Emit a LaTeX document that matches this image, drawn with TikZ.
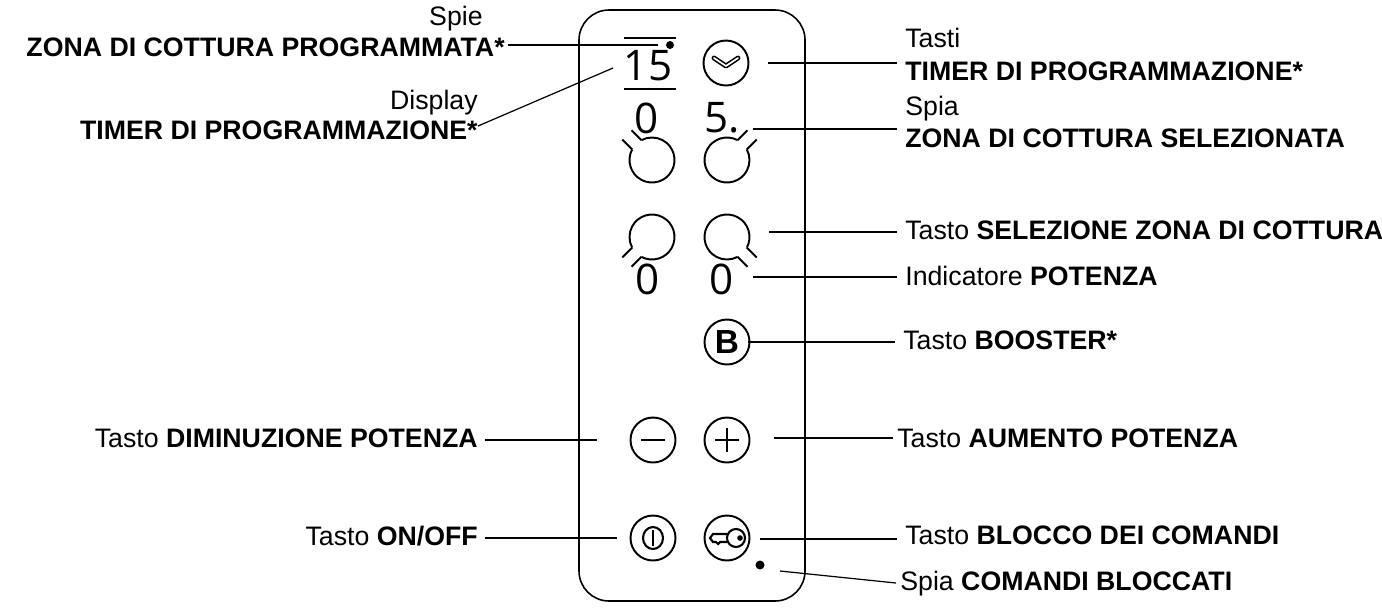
\documentclass[tikz,border=0pt]{standalone}
\usetikzlibrary{calc}
\usepackage{fontspec}
\setmainfont{Liberation Sans}
\newfontfamily\digitfont{Open Sans}
\begin{document}
\begin{tikzpicture}[x=0.02cm,y=-0.02cm,
  ln/.style={line width=0.7pt},
  btn/.style={circle,draw,line width=1.1pt,minimum size=45*0.02cm,inner sep=0pt},
  lab/.style={font=\fontsize{15.2}{17}\selectfont,inner sep=0pt},
  dig/.style={font=\digitfont\fontsize{24}{26}\selectfont,inner sep=0pt}]
\useasboundingbox (0,0) rectangle (1382,610);
% panel
\draw[line width=0.9pt,rounded corners=0.6cm] (579,10) rectangle (805,601);
% display
\draw[line width=1pt] (624,38) -- (676,38) (624,89) -- (676,89);
\node[dig] (d15) at (648,66) {15};
\fill (670,45) circle[radius=4] coordinate (dspie);
% clock
\node[btn] (clk) at (726,63) {};
\draw[line width=2.8pt,line cap=round,line join=round] (714,58) -- (726,66) -- (738,58);
\draw[white,line width=1pt,line cap=round,line join=round] (714,58) -- (726,66) -- (738,58);
% rings
\def\ring#1#2#3{% center x, y, gap direction
  \draw[line width=1.1pt] ($(#1,#2)+(#3-17:22.5)$) arc[start angle=#3-17,end angle=#3+17-360,radius=22.5];
  \draw[line width=1.1pt] ($(#1,#2)+(#3-17:22.5)$) -- ++(#3:14) ($(#1,#2)+(#3+17:22.5)$) -- ++(#3:14);}
\ring{652}{160}{-135}
\ring{727}{160}{-45}
\ring{652}{237}{135}
\ring{727}{237}{45}
\node[dig] (z1) at (647,118) {0};
\node[dig] (z2) at (722,118) {5.};
\node[dig] (z3) at (648,279) {0};
\node[dig] (z4) at (722,279) {0};
% booster
\node[btn] (bst) at (727,342) {\fontsize{19}{20}\selectfont\textbf{B}};
% minus plus
\node[btn] (mn) at (653,440) {};
\draw[line width=1.1pt] (641,440) -- (665,440);
\node[btn] (pl) at (727,440) {};
\draw[line width=1.1pt] (715,440) -- (739,440) (727,428) -- (727,452);
% power
\node[btn] (pw) at (653,538) {};
\draw[line width=1.2pt] (653,538) ellipse[x radius=10,y radius=11];
\draw[line width=1.4pt] (653,530) -- (653,546);
% key
\node[btn] (ky) at (727,538) {};
\draw[line width=1.2pt] (736,538) circle[radius=9];
\fill (740,538) circle[radius=2.8];
\draw[line width=1.2pt] (727,534) -- (713,534) -- (710,538) -- (713,542) -- (716,542) -- (718,544) -- (720,542) -- (727,542);
\fill (760,565) circle[radius=4.5] coordinate (kdot);
% left labels
\node[lab,anchor=base east] (t1a) at (483,25) {Spie};
\node[lab,anchor=base east] (t1b) at (505,56) {\textbf{ZONA DI COTTURA PROGRAMMATA*}};
\node[lab,anchor=base east] (t2a) at (478,109) {Display};
\node[lab,anchor=base east] (t2b) at (478,139) {\textbf{TIMER DI PROGRAMMAZIONE*}};
\node[lab,anchor=base east] (t3) at (478,447) {Tasto \textbf{DIMINUZIONE POTENZA}};
\node[lab,anchor=base east] (t4) at (478,545) {Tasto \textbf{ON/OFF}};
\coordinate (c1) at (508,45); \coordinate (c1e) at (658,45);
\coordinate (c2) at (478,126); \coordinate (c2e) at (613,68);
\coordinate (c3) at (485,440); \coordinate (c3e) at (597,440);
\coordinate (c4) at (485,538); \coordinate (c4e) at (617,538);
\draw[ln] (c1) -- (c1e); \draw[ln] (c2) -- (c2e);
\draw[ln] (c3) -- (c3e); \draw[ln] (c4) -- (c4e);
% right labels
\node[lab,anchor=base west] (u1a) at (905,47) {Tasti};
\node[lab,anchor=base west] (u1b) at (905,80) {\textbf{TIMER DI PROGRAMMAZIONE*}};
\node[lab,anchor=base west] (u2a) at (905,115) {Spia};
\node[lab,anchor=base west] (u2b) at (905,147) {\textbf{ZONA DI COTTURA SELEZIONATA}};
\node[lab,anchor=base west] (u3) at (905,239) {Tasto \textbf{SELEZIONE ZONA DI COTTURA}};
\node[lab,anchor=base west] (u4) at (905,285) {Indicatore \textbf{POTENZA}};
\node[lab,anchor=base west] (u5) at (903,349) {Tasto \textbf{BOOSTER*}};
\node[lab,anchor=base west] (u6) at (897,447) {Tasto \textbf{AUMENTO POTENZA}};
\node[lab,anchor=base west] (u7) at (905,544) {Tasto \textbf{BLOCCO DEI COMANDI}};
\node[lab,anchor=base west] (u8) at (900,590) {Spia \textbf{COMANDI BLOCCATI}};
\coordinate (e1) at (768,63); \coordinate (f1) at (897,63);
\coordinate (e2) at (753,129); \coordinate (f2) at (897,129);
\coordinate (e3) at (769,232); \coordinate (f3) at (897,232);
\coordinate (e4) at (753,277); \coordinate (f4) at (897,277);
\coordinate (e5) at (748,342); \coordinate (f5) at (895,342);
\coordinate (e6) at (774,438); \coordinate (f6) at (893,438);
\coordinate (e7) at (760,539); \coordinate (f7) at (897,539);
\coordinate (e8) at (780,571); \coordinate (f8) at (896,583);
\foreach \i in {1,...,8} {\draw[ln] (e\i) -- (f\i);}
\end{tikzpicture}
\end{document}
